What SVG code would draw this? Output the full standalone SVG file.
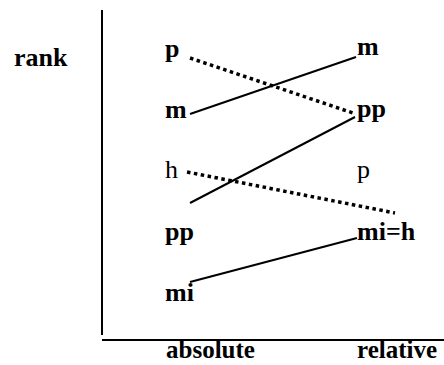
<svg xmlns="http://www.w3.org/2000/svg" width="444" height="365" viewBox="0 0 444 365">
<style>
text{font-family:"Liberation Serif","Times New Roman",serif;font-size:26px;fill:#000}
.b{font-weight:bold}
.ax{font-size:25px}
.solid{stroke:#000;stroke-width:2;fill:none}
.dot{stroke:#000;stroke-width:3.5;fill:none;stroke-dasharray:3.5 3.5}
.axis{stroke:#000;stroke-width:2;fill:none}
</style>
<rect width="444" height="365" fill="#fff"/>
<g id="axes">
<line class="axis" x1="102" y1="10" x2="102" y2="335"/>
<line class="axis" x1="102" y1="340" x2="444" y2="340"/>
</g>
<g id="rank"><text class="b" x="14" y="66">rank</text></g>
<g id="abs-p"><text class="b" x="165" y="57">p</text></g>
<g id="abs-m"><text class="b" x="165" y="118">m</text></g>
<g id="abs-h"><text x="165" y="178">h</text></g>
<g id="abs-pp"><text class="b" x="165" y="240">pp</text></g>
<g id="abs-mi"><text class="b" x="165" y="301">mi</text></g>
<g id="rel-m"><text class="b" x="357" y="55">m</text></g>
<g id="rel-pp"><text class="b" x="357" y="117">pp</text></g>
<g id="rel-p"><text x="357" y="178">p</text></g>
<g id="rel-mih"><text class="b" x="357" y="240">mi=h</text></g>
<g id="absolute"><text class="b ax" x="166" y="358">absolute</text></g>
<g id="relative"><text class="b ax" x="357" y="358">relative</text></g>
<g id="connectors">
<line class="dot" x1="190" y1="58" x2="353" y2="113"/>
<line class="solid" x1="190" y1="114" x2="356" y2="57"/>
<line class="dot" x1="187" y1="172" x2="395" y2="213"/>
<line class="solid" x1="190" y1="203" x2="355" y2="117"/>
<line class="solid" x1="190" y1="282" x2="357" y2="238"/>
</g>
</svg>
